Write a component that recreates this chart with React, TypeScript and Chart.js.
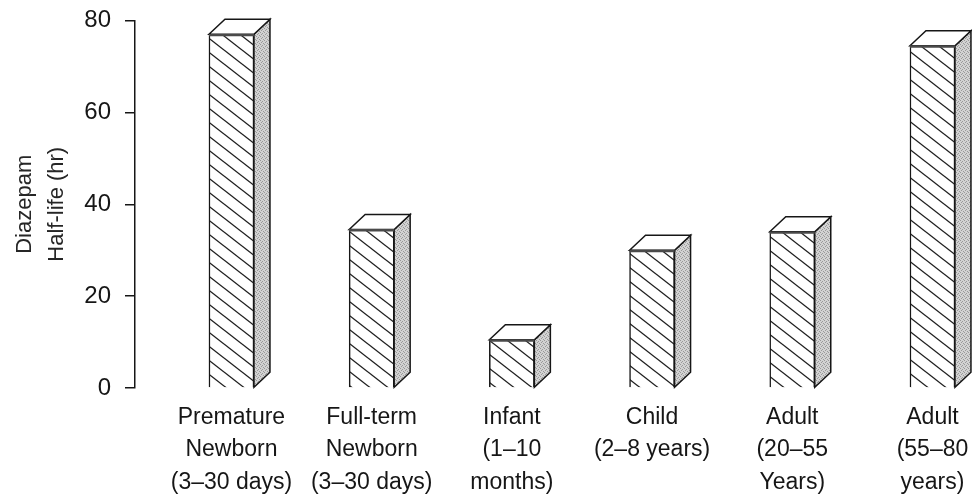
import React, { useEffect, useRef } from 'react';
import { Chart, registerables } from 'chart.js';

Chart.register(...registerables);

const categories: string[][] = [
  ['Premature', 'Newborn', '(3–30 days)'],
  ['Full-term', 'Newborn', '(3–30 days)'],
  ['Infant', '(1–10', 'months)'],
  ['Child', '(2–8 years)'],
  ['Adult', '(20–55', 'Years)'],
  ['Adult', '(55–80', 'years)'],
];
const halfLifeHours: number[] = [77, 34.5, 10.5, 30, 34, 74.5];
const yTickStep = 20;
const yMin = 0;
const yMax = 80;
const yTitle: string[] = ['Diazepam', 'Half-life (hr)'];

const FONT = "'Liberation Sans', Arial, sans-serif";
const INK = '#161616';
const DX = 16;
const DY = 15;

function makeHatch(): CanvasPattern | string {
  const c = document.createElement('canvas');
  const w = 18;
  const h = 14;
  c.width = w;
  c.height = h;
  const g = c.getContext('2d');
  if (!g) return '#fff';
  g.fillStyle = '#ffffff';
  g.fillRect(0, 0, w, h);
  g.strokeStyle = '#1e1e1e';
  g.lineWidth = 1.3;
  for (let ox = -1; ox <= 1; ox++) {
    for (let oy = -1; oy <= 1; oy++) {
      g.beginPath();
      g.moveTo(ox * w, oy * h);
      g.lineTo(ox * w + w, oy * h + h);
      g.stroke();
    }
  }
  const p = g.createPattern(c, 'repeat');
  return p || '#fff';
}

function makeStipple(): CanvasPattern | string {
  const c = document.createElement('canvas');
  c.width = 4;
  c.height = 4;
  const g = c.getContext('2d');
  if (!g) return '#bbb';
  g.fillStyle = '#d2d2d2';
  g.fillRect(0, 0, 4, 4);
  g.fillStyle = '#999999';
  [[0, 0], [2, 1], [1, 2], [3, 3]].forEach(([px, py]) => g.fillRect(px, py, 1, 1));
  const p = g.createPattern(c, 'repeat');
  return p || '#bbb';
}

export default function App() {
  const ref = useRef<HTMLCanvasElement | null>(null);

  useEffect(() => {
    const canvas = ref.current;
    if (!canvas) return;
    const hatch = makeHatch();
    const stipple = makeStipple();

    const box3d = {
      id: 'box3d',
      afterDatasetsDraw(chart: any) {
        const ctx = chart.ctx as CanvasRenderingContext2D;
        const meta = chart.getDatasetMeta(0);
        ctx.save();
        ctx.lineJoin = 'miter';
        ctx.strokeStyle = INK;
        ctx.lineWidth = 1.5;
        meta.data.forEach((bar: any) => {
          const { x, y, base, width } = bar.getProps(['x', 'y', 'base', 'width'], true);
          const l = x - width / 2;
          const r = x + width / 2;
          // side face
          ctx.beginPath();
          ctx.moveTo(r, y);
          ctx.lineTo(r + DX, y - DY);
          ctx.lineTo(r + DX, base - DY);
          ctx.lineTo(r, base);
          ctx.closePath();
          ctx.fillStyle = stipple as any;
          ctx.fill();
          ctx.stroke();
          // top face
          ctx.beginPath();
          ctx.moveTo(l, y);
          ctx.lineTo(l + DX, y - DY);
          ctx.lineTo(r + DX, y - DY);
          ctx.lineTo(r, y);
          ctx.closePath();
          ctx.fillStyle = '#ffffff';
          ctx.fill();
          ctx.stroke();
          // heavier front top edge
          ctx.beginPath();
          ctx.lineWidth = 2.4;
          ctx.strokeStyle = '#4a4a4a';
          ctx.moveTo(l, y + 0.8);
          ctx.lineTo(r, y + 0.8);
          ctx.stroke();
          ctx.lineWidth = 1.5;
          ctx.strokeStyle = INK;
        });
        ctx.restore();
      },
    };

    const chart = new Chart(canvas, {
      type: 'bar',
      data: {
        datasets: [
          {
            data: halfLifeHours.map((v, i) => ({ x: i, y: v })),
            backgroundColor: hatch as any,
            borderColor: INK,
            borderWidth: 1.5,
            barThickness: 45,
          },
        ],
      },
      options: {
        animation: false,
        responsive: false,
        maintainAspectRatio: false,
        layout: { padding: { top: 0, left: 0, right: 0, bottom: 0 } },
        plugins: {
          legend: { display: false },
          tooltip: { enabled: false },
        },
        scales: {
          x: {
            type: 'linear',
            min: -0.688,
            max: 5.282,
            offset: false,
            grid: { display: false, drawTicks: false },
            border: { display: false },
            ticks: {
              autoSkip: false,
              maxRotation: 0,
              minRotation: 0,
              padding: 13,
              color: INK,
              font: { family: FONT, size: 23, lineHeight: 1.413 },
              callback: (v: any) => categories[Math.round(Number(v))] ?? '',
            },
            afterBuildTicks: (axis: any) => {
              axis.ticks = categories.map((_, i) => ({ value: i }));
            },
            afterFit: (axis: any) => {
              axis.height = 109;
              axis.paddingLeft = 0;
              axis.paddingRight = 0;
            },
          },
          y: {
            min: yMin,
            max: yMax,
            ticks: {
              stepSize: yTickStep,
              padding: 14,
              color: INK,
              font: { family: FONT, size: 24, lineHeight: 1 },
            },
            grid: {
              drawOnChartArea: false,
              drawTicks: true,
              tickLength: 10,
              color: INK,
              lineWidth: 1.5,
            },
            border: { display: true, color: INK, width: 1.5 },
            title: {
              display: true,
              text: yTitle,
              color: '#262626',
              font: { family: FONT, size: 22, lineHeight: 1.45 },
              padding: { top: 1, bottom: 0 },
            },
            afterFit: (axis: any) => {
              axis.width = 127;
              axis.paddingTop = 12.5;
              axis.paddingBottom = 0;
            },
          },
        },
      } as any,
      plugins: [box3d],
    });
    return () => chart.destroy();
  }, []);

  return (
    <div style={{ width: 964, height: 489 }}>
      <canvas ref={ref} width={964} height={489} style={{ display: 'block' }} />
    </div>
  );
}
